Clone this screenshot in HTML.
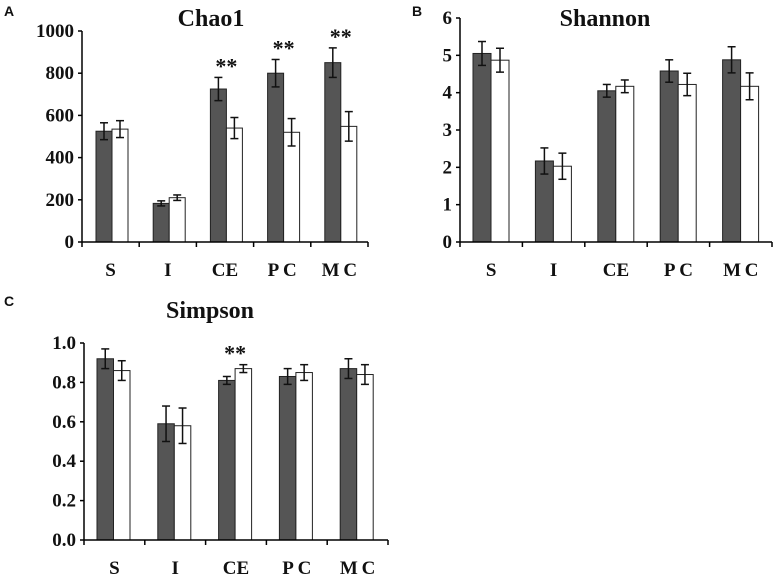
<!DOCTYPE html>
<html><head><meta charset="utf-8"><style>
html,body{margin:0;padding:0;background:#fff;width:779px;height:578px;overflow:hidden}
svg text{font-family:"Liberation Serif",serif;font-weight:bold;fill:#111}
</style></head><body>
<svg id="chart" width="779" height="578" viewBox="0 0 779 578" xmlns="http://www.w3.org/2000/svg"></svg>
<script>
const categories = ["S","I","CE","PC","MC"];
const chaoDark = [525,183,725,800,850];
const chaoDarkErr = [40,12,55,65,70];
const chaoWhite = [535,210,540,520,548];
const chaoWhiteErr = [40,13,50,65,70];
const chaoTicks = ["0","200","400","600","800","1000"];
const chaoStars = [false,false,true,true,true];
const shanDark = [5.05,2.17,4.05,4.58,4.88];
const shanDarkErr = [0.32,0.35,0.17,0.3,0.35];
const shanWhite = [4.87,2.03,4.17,4.22,4.17];
const shanWhiteErr = [0.32,0.35,0.17,0.3,0.36];
const shanTicks = ["0","1","2","3","4","5","6"];
const shanStars = [false,false,false,false,false];
const simpDark = [0.92,0.59,0.81,0.83,0.87];
const simpDarkErr = [0.05,0.09,0.02,0.04,0.05];
const simpWhite = [0.86,0.58,0.87,0.85,0.84];
const simpWhiteErr = [0.05,0.09,0.02,0.04,0.05];
const simpTicks = ["0.0","0.2","0.4","0.6","0.8","1.0"];
const simpStars = [false,false,true,false,false];

const svg = document.getElementById('chart');
const NS = 'http://www.w3.org/2000/svg';
function mk(tag, attrs, parent){
  const e = document.createElementNS(NS, tag);
  for (const k in attrs) e.setAttribute(k, attrs[k]);
  (parent||svg).appendChild(e);
  return e;
}
function panel(p){
  const g = mk('g', {});
  
  
  const ymax = parseFloat(p.ticks[p.ticks.length-1]);
  const ys = v => p.y0 - (v/ymax)*(p.y0-p.y1);
  const cw = (p.x1-p.x0)/categories.length;
  const xs = i => p.x0 + i*cw;
  const t = mk('text', {x:p.tx, y:p.ty, 'text-anchor':'middle', 'font-size':24}, g);
  t.textContent = p.title;
  
  
  const L = mk('text', {x:p.lx, y:p.ly, 'font-size':14, style:'font-family:"Liberation Sans",sans-serif;font-weight:bold'}, g);
  L.textContent = p.letter;
  
  
  p.ticks.forEach(tk => {
    const y = ys(parseFloat(tk));
    mk('line', {x1:p.x0-4, x2:p.x0, y1:y, y2:y, stroke:'#000', 'stroke-width':1.5}, g);
    const tt = mk('text', {x:p.x0-8, y:y+6, 'text-anchor':'end', 'font-size':19}, g);
    tt.textContent = tk;
    
    
  });
  categories.forEach((c, i) => {
    const bx = xs(i) + p.off;
    const series = [[p.dark[i], p.darkErr[i], '#555'], [p.white[i], p.whiteErr[i], '#fff']];
    series.forEach((s, j) => {
      const x = bx + j*p.bw;
      const r = mk('rect', {x:x, y:ys(s[0]), width:p.bw, height:p.y0-ys(s[0]), fill:s[2], stroke:'#222', 'stroke-width':1}, g);
      
      
      const cx = x + p.bw/2, yt = ys(s[0]+s[1]), yb = ys(s[0]-s[1]);
      mk('line', {x1:cx, x2:cx, y1:yt, y2:yb, stroke:'#111', 'stroke-width':1.5}, g);
      mk('line', {x1:cx-4, x2:cx+4, y1:yt, y2:yt, stroke:'#111', 'stroke-width':1.5}, g);
      mk('line', {x1:cx-4, x2:cx+4, y1:yb, y2:yb, stroke:'#111', 'stroke-width':1.5}, g);
    });
    if (p.stars[i]) {
      const top = Math.max(p.dark[i]+p.darkErr[i], p.white[i]+p.whiteErr[i]);
      const st = mk('text', {x:bx+p.bw, y:ys(top)-4, 'text-anchor':'middle', 'font-size':22}, g);
      st.textContent = '**';
      
      
    }
    const cl = mk('text', {x:xs(i)+cw/2, y:p.y0+34, 'text-anchor':'middle', 'font-size':19}, g);
    cl.textContent = c.split('').join(c.length>1 && c!=='CE' ? '\u2009' : '');
    
    
  });
  for (let i=0;i<=categories.length;i++){
    mk('line', {x1:xs(i), x2:xs(i), y1:p.y0, y2:p.y0+5, stroke:'#000', 'stroke-width':1.5}, g);
  }
  const ya = mk('line', {x1:p.x0, x2:p.x0, y1:p.y1, y2:p.y0, stroke:'#000', 'stroke-width':1.5}, g);
  
  
  const xa = mk('line', {x1:p.x0, x2:p.x1, y1:p.y0, y2:p.y0, stroke:'#000', 'stroke-width':1.5}, g);
  
  
}
panel({name:'chao1-panel', title:'Chao1', letter:'A', tx:211, ty:26, lx:4, ly:16,
  x0:82, x1:368, y0:242, y1:31, off:14, bw:16, ticks:chaoTicks,
  dark:chaoDark, darkErr:chaoDarkErr, white:chaoWhite, whiteErr:chaoWhiteErr, stars:chaoStars});
panel({name:'shannon-panel', title:'Shannon', letter:'B', tx:605, ty:26, lx:412, ly:16,
  x0:460, x1:772, y0:242, y1:18, off:13, bw:18, ticks:shanTicks,
  dark:shanDark, darkErr:shanDarkErr, white:shanWhite, whiteErr:shanWhiteErr, stars:shanStars});
panel({name:'simpson-panel', title:'Simpson', letter:'C', tx:210, ty:318, lx:4, ly:306,
  x0:84, x1:388, y0:540, y1:343, off:13, bw:16.5, ticks:simpTicks,
  dark:simpDark, darkErr:simpDarkErr, white:simpWhite, whiteErr:simpWhiteErr, stars:simpStars});
</script>
</body></html>
